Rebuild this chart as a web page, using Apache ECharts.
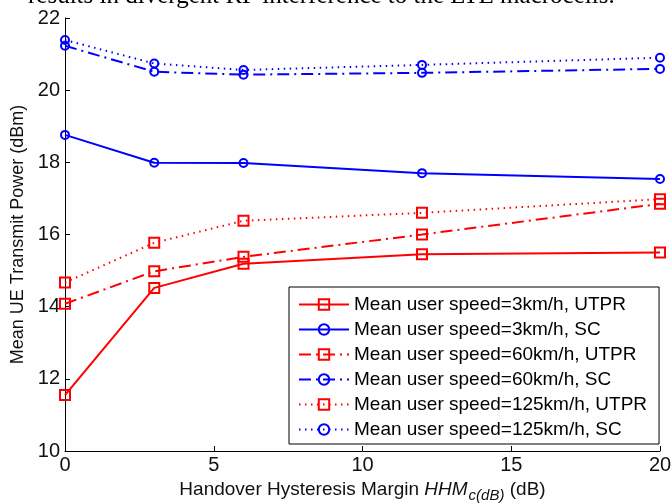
<!DOCTYPE html>
<html><head><meta charset="utf-8">
<script src="https://cdn.jsdelivr.net/npm/echarts@6/dist/echarts.min.js"></script>
<style>html,body{margin:0;padding:0;background:#fff}#c{width:672px;height:504px}</style>
</head><body><div id="c"></div>
<script>
const xValues = [0, 3, 6, 12, 20];
const utpr3 = [11.55, 14.52, 15.19, 15.45, 15.5];
const sc3 = [18.76, 17.99, 17.98, 17.7, 17.54];
const utpr60 = [14.08, 14.98, 15.38, 16.0, 16.85];
const sc60 = [21.23, 20.51, 20.43, 20.48, 20.59];
const utpr125 = [14.67, 15.77, 16.38, 16.6, 16.98];
const sc125 = [21.39, 20.74, 20.56, 20.7, 20.9];
const names = [
  'Mean user speed=3km/h, UTPR',
  'Mean user speed=3km/h, SC',
  'Mean user speed=60km/h, UTPR',
  'Mean user speed=60km/h, SC',
  'Mean user speed=125km/h, UTPR',
  'Mean user speed=125km/h, SC'
];
const topText = 'results in divergent RF interference to the LTE macrocells.';

const RED = '#ff0000', BLUE = '#0000ff';
const DASHDOT = [12, 5, 2, 5];
const DOT = [1.5, 4.5];
function mk(name, vals, color, type, symbol, size) {
  return {
    name, type: 'line',
    data: xValues.map((x, i) => [x, vals[i]]),
    symbol, symbolSize: size, showAllSymbol: true,
    color: color,
    lineStyle: { color, width: 2, type },
    itemStyle: { color: 'rgba(255,255,255,0)', borderColor: color, borderWidth: 2 },
    emphasis: { disabled: true },
    animation: false
  };
}
const chart = echarts.init(document.getElementById('c'), null, { renderer: 'canvas' });
chart.setOption({
  backgroundColor: '#fff',
  animation: false,
  graphic: [{
    type: 'text', x: 28, y: -4,
    style: { text: topText, font: '25px "Liberation Serif"', fill: '#000', verticalAlign: 'middle' }
  }],
  grid: { left: 65, right: 12, top: 18, bottom: 53, containLabel: false, outerBoundsMode: 'none' },
  xAxis: {
    type: 'value', min: 0, max: 20, interval: 5,
    axisLine: { lineStyle: { color: '#000', width: 1 } },
    axisTick: { inside: true, length: 5, lineStyle: { color: '#000' } },
    splitLine: { show: false },
    axisLabel: { color: '#111', fontSize: 20, fontFamily: 'Liberation Sans', margin: 4 },
    name: '{n|Handover Hysteresis Margin }{i|HHM}{s|c(dB)}{n| (dB)}',
    nameLocation: 'middle', nameGap: 25,
    nameTextStyle: {
      rich: {
        n: { fontSize: 19, fontFamily: 'Liberation Sans', color: '#111' },
        i: { fontSize: 19, fontFamily: 'Liberation Sans', fontStyle: 'italic', color: '#111' },
        s: { fontSize: 15, fontFamily: 'Liberation Sans', fontStyle: 'italic', color: '#111', padding: [12, 0, 0, 1] }
      }
    }
  },
  yAxis: {
    type: 'value', min: 10, max: 22, interval: 2,
    axisLine: { show: true, lineStyle: { color: '#000', width: 1 } },
    axisTick: { show: true, inside: true, length: 5, lineStyle: { color: '#000' } },
    splitLine: { show: false },
    axisLabel: { color: '#111', fontSize: 20, fontFamily: 'Liberation Sans', margin: 5 },
    name: 'Mean UE Transmit Power (dBm)',
    nameLocation: 'middle', nameGap: 34,
    nameTextStyle: { fontSize: 18, fontFamily: 'Liberation Sans', color: '#111' }
  },
  legend: {
    orient: 'vertical', left: 289, top: 287,
    padding: [8, 12, 5, 9],
    backgroundColor: '#fff',
    borderColor: '#000', borderWidth: 1,
    itemWidth: 50, itemHeight: 13, itemGap: 6,
    textStyle: { fontSize: 19, lineHeight: 19, fontFamily: 'Liberation Sans', color: '#000' },
    selectedMode: false,
    data: names
  },
  series: [
    mk(names[0], utpr3, RED, 'solid', 'rect', 10),
    mk(names[1], sc3, BLUE, 'solid', 'circle', 8),
    mk(names[2], utpr60, RED, DASHDOT, 'rect', 10),
    mk(names[3], sc60, BLUE, DASHDOT, 'circle', 8),
    mk(names[4], utpr125, RED, DOT, 'rect', 10),
    mk(names[5], sc125, BLUE, DOT, 'circle', 8)
  ]
});
</script></body></html>
